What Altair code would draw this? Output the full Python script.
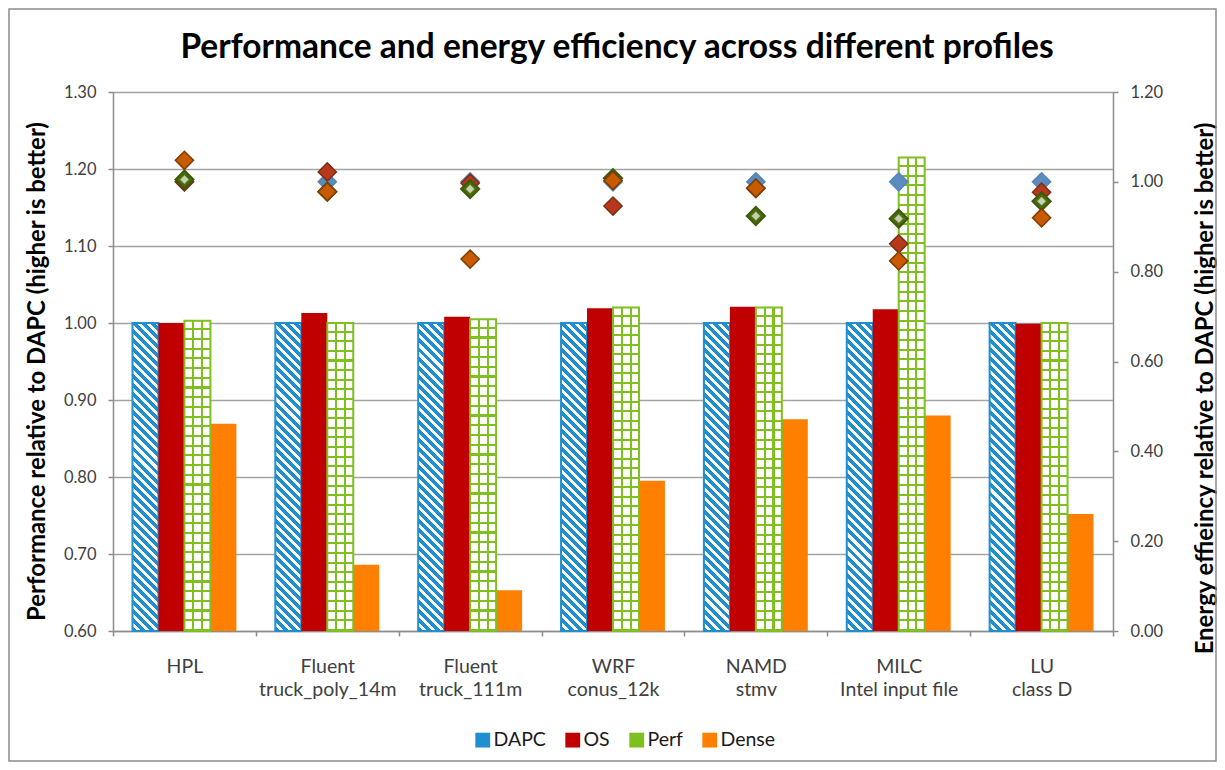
import math
import altair as alt
import pandas as pd

categories = ["HPL", "Fluent|truck_poly_14m", "Fluent|truck_111m", "WRF|conus_12k",
              "NAMD|stmv", "MILC|Intel input file", "LU|class D"]
series = ["DAPC", "OS", "Perf", "Dense"]
title_text = "Performance and energy efficiency across different profiles"

# Performance relative to DAPC (bars, left axis)
perf_dapc = [1.000, 1.000, 1.000, 1.000, 1.000, 1.000, 1.000]
perf_os = [1.000, 1.013, 1.008, 1.019, 1.021, 1.018, 0.999]
perf_perf = [1.003, 1.000, 1.005, 1.020, 1.020, 1.215, 1.000]
perf_dense = [0.869, 0.686, 0.653, 0.795, 0.875, 0.880, 0.752]

# Energy efficiency relative to DAPC (diamonds, right axis)
eff_dapc = [1.000, 1.000, 1.000, 1.000, 1.000, 1.000, 1.000]
eff_os = [1.000, 1.022, 0.997, 0.946, 0.985, 0.862, 0.977]
eff_perf = [1.005, 0.978, 0.984, 1.008, 0.924, 0.918, 0.957]
eff_dense = [1.048, 0.978, 0.828, 1.003, 0.986, 0.824, 0.920]

left_ticks = [0.6, 0.7, 0.8, 0.9, 1.0, 1.1, 1.2, 1.3]
right_ticks = [0.0, 0.2, 0.4, 0.6, 0.8, 1.0, 1.2]

rows = []
perf_lists = [perf_dapc, perf_os, perf_perf, perf_dense]
eff_lists = [eff_dapc, eff_os, eff_perf, eff_dense]
for s, pl, el in zip(series, perf_lists, eff_lists):
    for c, p, e in zip(categories, pl, el):
        rows.append({"cat": c, "series": s, "perf": p, "energy": e})
df = pd.DataFrame(rows)

W, H = 1000, 539
FONT = "Lato"
AX = "#8c8c8c"
C_DAPC = "#1f8fd0"
C_OS = "#c00000"
C_PERF = "#7fbf1f"
C_DENSE = "#ff7f00"


def stripes(c1, c2, n, frac, x1, y1, x2, y2):
    stops = []
    for i in range(n):
        a = round(i / n, 5)
        b = round((i + frac) / n, 5)
        c = round((i + 1) / n, 5)
        stops += [{"offset": a, "color": c1}, {"offset": b, "color": c1},
                  {"offset": b, "color": c2}, {"offset": c, "color": c2}]
    return {"gradient": "linear", "x1": x1, "y1": y1, "x2": x2, "y2": y2, "stops": stops}


# geometry of a bar (for pattern gradients)
bar_w = W / len(categories) / 5.5
def bar_h(v):
    return (v - 0.6) / 0.7 * H

# DAPC diagonal stripes
hd = bar_h(1.0)
r = hd / bar_w
t = (1 + r) / (1 + r * r)
n_diag = int(round((bar_w + hd) / math.sqrt(2) / 6.4))
dapc_fill = stripes(C_DAPC, "#ffffff", n_diag, 0.55, 0, 1, round(t, 5), round(1 - t * r, 5))

# Perf grid: vertical lines
perf_v = {"gradient": "linear", "x1": 0, "y1": 0, "x2": 1, "y2": 0, "stops": [
    {"offset": 0, "color": "#ffffff"}, {"offset": 0.3, "color": "#ffffff"},
    {"offset": 0.3, "color": C_PERF}, {"offset": 0.38, "color": C_PERF},
    {"offset": 0.38, "color": "#ffffff"}, {"offset": 0.64, "color": "#ffffff"},
    {"offset": 0.64, "color": C_PERF}, {"offset": 0.72, "color": C_PERF},
    {"offset": 0.72, "color": "#ffffff"}, {"offset": 1, "color": "#ffffff"}]}

x_axis = alt.Axis(tickBand="extent", labelExpr="split(datum.label, '|')", labelFontSize=19.5,
                  labelFont=FONT, labelColor="#404040", labelPadding=21, labelLineHeight=23,
                  labelAngle=0, tickSize=5, tickColor=AX, tickWidth=1.5, domainColor=AX,
                  domainWidth=1.5, title=None, grid=False)
x_enc = alt.X("cat:N", sort=categories, scale=alt.Scale(paddingInner=0, paddingOuter=0), axis=x_axis)
xoff = alt.XOffset("series:N", sort=series,
                   scale=alt.Scale(domain=series, paddingInner=0, paddingOuter=0.75))
left_axis = alt.Axis(values=left_ticks, format=".2f", grid=True, gridColor="#a3a3a3", gridWidth=1.5,
                     domainColor=AX, domainWidth=1.5, tickColor=AX, tickWidth=1.5, tickSize=5,
                     labelFontSize=16.5, labelFont=FONT, labelColor="#404040", labelPadding=12,
                     title="Performance relative to DAPC (higher is better)", titleFont=FONT,
                     titleFontSize=23.9, titleFontWeight="bold", titleColor="#000000",
                     titleX=-76, titleY=279, titleAngle=270, titleAlign="center",
                     titleBaseline="middle")
y_left = alt.Y("perf:Q", scale=alt.Scale(domain=[0.6, 1.3], zero=False, nice=False), axis=left_axis)

base = alt.Chart(df)

dapc_bars = base.transform_filter(alt.datum.series == "DAPC").mark_bar(
    fill=dapc_fill, stroke=C_DAPC, strokeWidth=2).encode(x=x_enc, xOffset=xoff, y=y_left, y2=alt.datum(0.6))

solid_bars = base.transform_filter((alt.datum.series == "OS") | (alt.datum.series == "Dense")).mark_bar(
    strokeWidth=0).encode(
    x=x_enc, xOffset=xoff, y=y_left, y2=alt.datum(0.6),
    color=alt.Color("series:N", scale=alt.Scale(domain=series, range=[C_DAPC, C_OS, C_PERF, C_DENSE]),
                    legend=alt.Legend(orient="none", legendX=360, legendY=638, direction="horizontal",
                                      title=None, symbolType="square", symbolSize=220,
                                      symbolStrokeWidth=0, labelFontSize=19.5, labelFont=FONT,
                                      labelColor="#1a1a1a", columnPadding=17, labelOffset=1)))

perf_base = base.transform_filter(alt.datum.series == "Perf").mark_bar(
    fill=perf_v, stroke=C_PERF, strokeWidth=2).encode(x=x_enc, xOffset=xoff, y=y_left, y2=alt.datum(0.6))

perf_h_layers = []
for c, v in zip(categories, perf_perf):
    n = max(1, int(round(bar_h(v) / 9.6)))
    g = stripes("rgba(127,191,31,0)", C_PERF, n, 0.78, 0, 0, 0, 1)
    perf_h_layers.append(
        base.transform_filter((alt.datum.series == "Perf") & (alt.datum.cat == c)).mark_bar(
            fill=g, strokeWidth=0).encode(x=x_enc, xOffset=xoff, y=y_left, y2=alt.datum(0.6)))

border = alt.Chart(pd.DataFrame({"k": [0]})).mark_rect(
    fillOpacity=0, stroke="#8c8c8c", strokeWidth=1.5).encode(
    x=alt.value(-104), x2=alt.value(1103), y=alt.value(-83), y2=alt.value(669))

title = alt.Chart(pd.DataFrame({"t": [title_text]})).mark_text(
    font=FONT, fontSize=33.5, fontWeight="bold", color="#000000", align="center",
    baseline="alphabetic").encode(text="t:N", x=alt.value(W / 2 + 4), y=alt.value(-34))

bars = alt.layer(border, title, dapc_bars, solid_bars, perf_base, *perf_h_layers)

right_axis = alt.Axis(orient="right", values=right_ticks, format=".2f", grid=False,
                      domainColor=AX, domainWidth=1.5, tickColor=AX, tickWidth=1.5, tickSize=5,
                      labelFontSize=16.5, labelFont=FONT, labelColor="#404040", labelPadding=12,
                      title="Energy effieincy relative to DAPC (higher is better)", titleFont=FONT,
                      titleFontSize=23.9, titleFontWeight="bold", titleColor="#000000",
                      titleX=92, titleY=296, titleAngle=270, titleAlign="center",
                      titleBaseline="middle")
y_right = alt.Y("energy:Q", scale=alt.Scale(domain=[0, 1.2], nice=False), axis=right_axis)

def pts(s, fill, stroke, size=330, sw=1.5):
    return base.transform_filter(alt.datum.series == s).mark_point(
        shape="diamond", filled=True, size=size, fill=fill, stroke=stroke, strokeWidth=sw,
        opacity=1).encode(x=x_enc, y=y_right)

points = alt.layer(
    pts("DAPC", "#5b8cc0", "#5585b8"),
    pts("OS", "#b8381e", "#7a2e12"),
    pts("Perf", "#4b6b0d", "#3d5a08", sw=2),
    pts("Perf", "#c5d0ae", "#a8b890", size=70, sw=0.5),
    pts("Dense", "#c85a00", "#7f3d00"),
)

chart = alt.layer(bars, points).resolve_scale(y="independent").properties(
    width=W, height=H,
    autosize=alt.AutoSizeParams(type="none"),
    padding={"left": 105, "top": 84, "right": 104, "bottom": 132},
    background="#ffffff",
).configure_view(stroke="transparent")

chart.save("out.html", embed_options={"renderer": "svg", "actions": False})
